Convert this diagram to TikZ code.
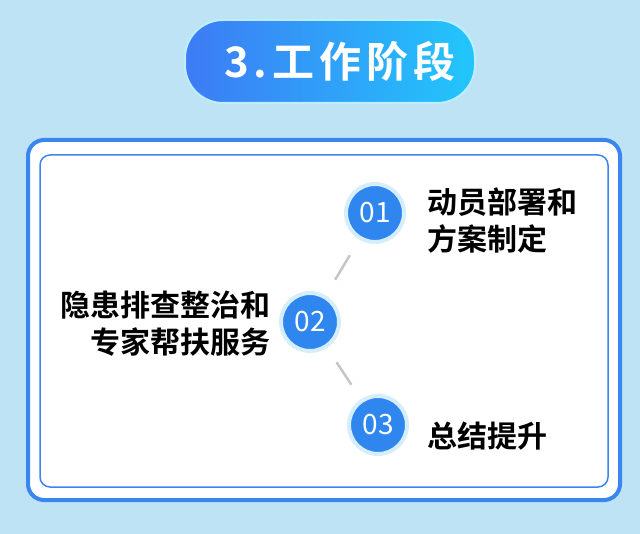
\documentclass[tikz,border=0pt]{standalone}
\usepackage{fontspec}
\setmainfont{Noto Sans CJK SC}
\newfontfamily\cjkb{Noto Sans CJK SC Bold}
\newfontfamily\cjkt[LetterSpace=12]{Noto Sans CJK SC Bold}
\usetikzlibrary{shadings}
\definecolor{bg}{HTML}{BEE3F5}
\definecolor{bl}{HTML}{3A86F0}
\definecolor{cf}{HTML}{2F86EE}
\definecolor{halo}{HTML}{D6EEFB}
\definecolor{gl}{HTML}{3D7BF5}
\definecolor{gr}{HTML}{22C6FB}
\tikzset{
  num/.style={circle,fill=cf,draw=halo,line width=4pt,minimum size=58pt,inner sep=0pt,text=white,font=\fontsize{28}{28}\selectfont},
  lab/.style={font=\cjkb\fontsize{30}{37}\selectfont,align=left,anchor=west},
  conn/.style={draw=gray!45,line width=2.5pt}
}
\begin{document}
\begin{tikzpicture}[x=1pt,y=-1pt]
\fill[bg] (0,0) rectangle (640,534);
\useasboundingbox (0,0) rectangle (640,534);
\shade[left color=gl,right color=gr,rounded corners=38pt,draw=white!70!gr,line width=2pt] (185,20) rectangle (475,103);
\node[text=white,font=\cjkt\fontsize{42}{42}\selectfont] (title) at (340,61) {3.工作阶段};
\draw[bl,fill=white,line width=4pt,rounded corners=16pt] (28,140) rectangle (620,500);
\draw[bl,line width=1.5pt,rounded corners=10pt] (40,155) rectangle (608,487);
\node[num] (n1) at (375,213) {01};
\node[num] (n2) at (310,322) {02};
\node[num] (n3) at (378,425) {03};
\path (n1) -- (n2) coordinate[pos=0.28] (a1) coordinate[pos=0.72] (a2);
\draw[conn] (a1) -- (a2);
\path (n2) -- (n3) coordinate[pos=0.28] (b1) coordinate[pos=0.72] (b2);
\draw[conn] (b1) -- (b2);
\node[lab] (t1) at (424,221) {动员部署和\\方案制定};
\node[lab,align=right,anchor=east] (t2) at (274,324) {隐患排查整治和\\专家帮扶服务};
\node[lab] (t3) at (424,436) {总结提升};
\end{tikzpicture}
\end{document}
